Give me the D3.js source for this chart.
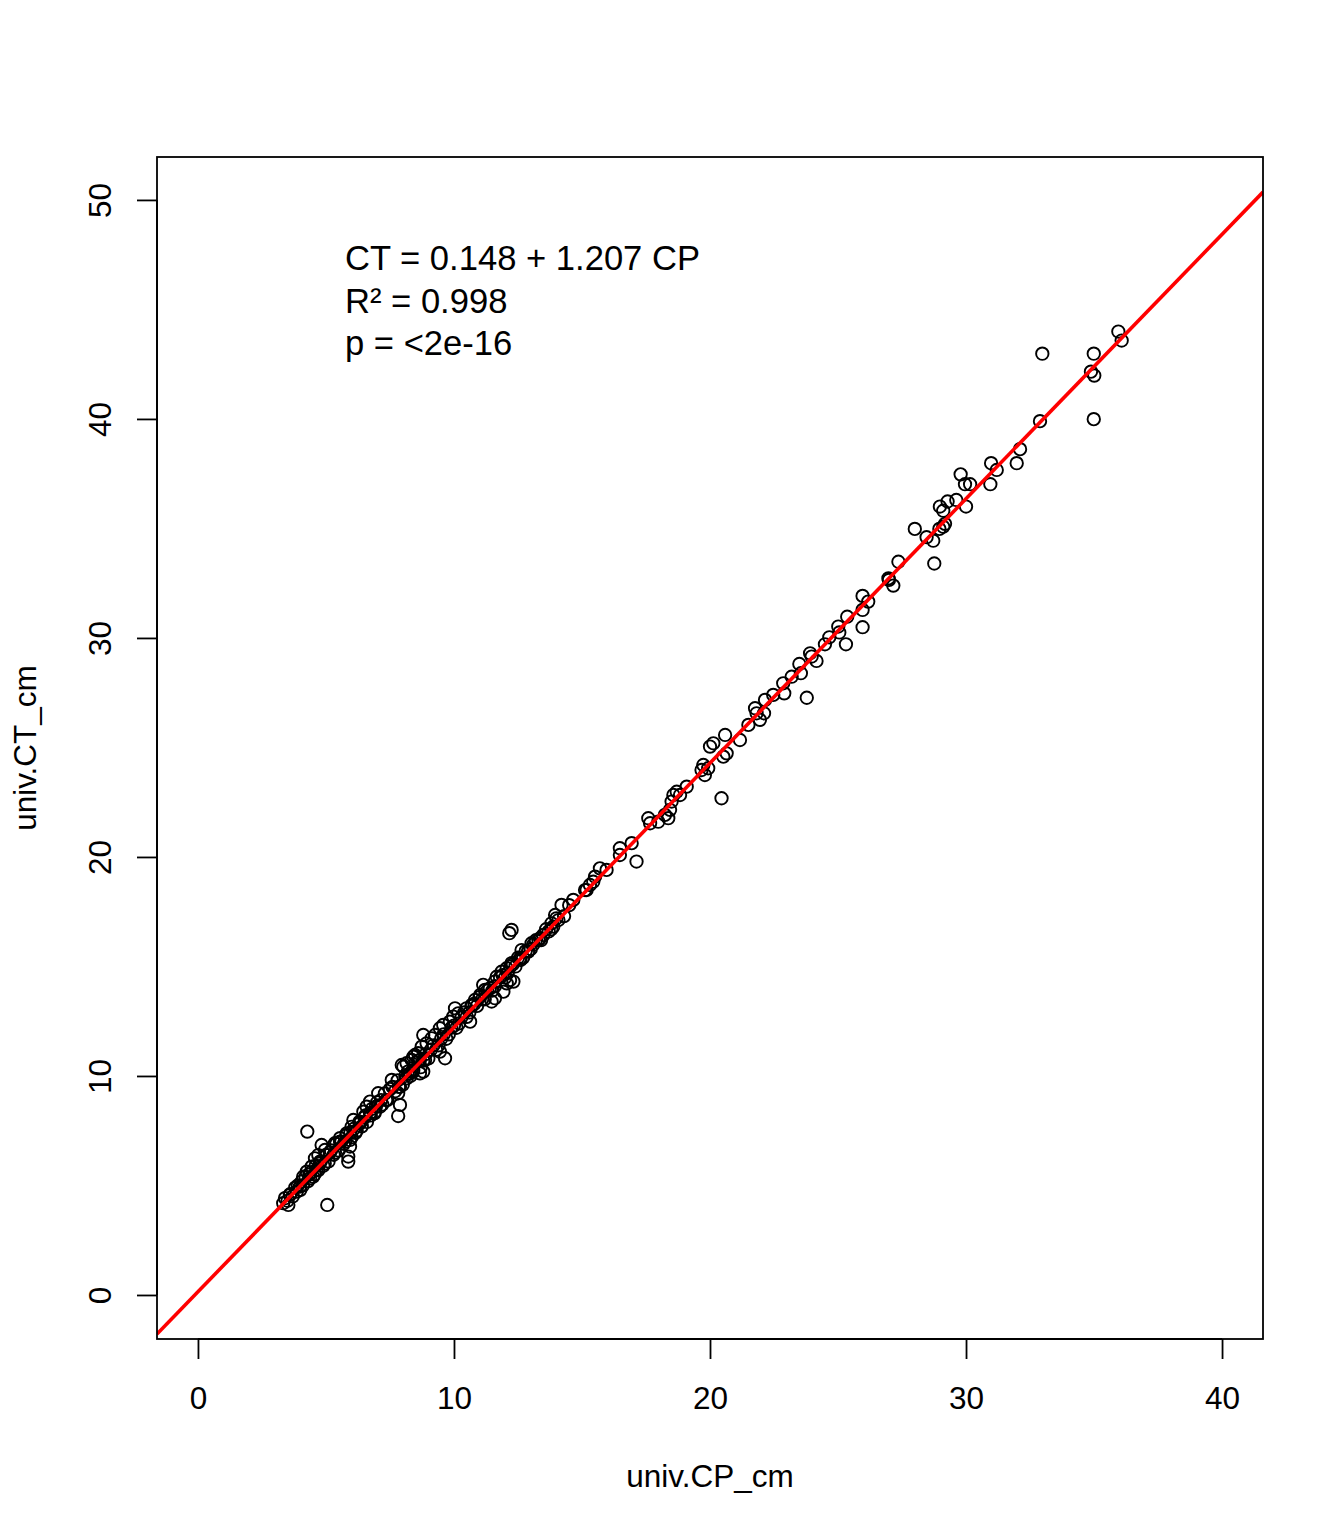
<!DOCTYPE html>
<html>
<head>
<meta charset="utf-8">
<script src="https://cdn.jsdelivr.net/npm/d3@7"></script>
<style>
  body { margin: 0; background: #fff; }
  svg text { font-family: "Liberation Sans", Arial, sans-serif; fill: #000; }
</style>
</head>
<body>
<div id="chart"></div>
<script>
var cp = [35.95, 36.08, 32.98, 34.99, 34.88, 35.01, 34.99, 32.89, 32.11, 31.98,
          30.98, 31.2, 30.95, 29.79, 29.96, 30.16, 29.62, 29.28, 28.98, 29.11,
          30.0, 29.18, 28.96, 28.0, 28.46, 28.72, 27.36, 28.76, 26.97, 29.11,
          26.99, 27.16, 25.96, 26.18, 25.96, 25.96, 25.36, 25.01, 25.05, 25.31,
          24.66, 24.49, 23.91, 23.97, 24.16, 23.49, 23.55, 23.19, 22.86, 22.9,
          23.78, 22.47, 22.15, 21.76, 21.82, 22.11, 21.95, 21.5, 20.59, 20.13,
          20.0, 21.17, 20.65, 20.52, 20.45, 19.74, 19.67, 19.8, 19.93, 19.09,
          18.7, 18.57, 18.83, 18.5, 18.44, 18.24, 18.37, 17.59, 17.66, 17.98,
          17.13, 16.48, 16.48, 16.94, 15.7, 15.96, 15.51, 15.44, 15.12,
          12.25, 12.16, 15.31, 15.18, 14.66, 14.2, 13.95, 14.08, 13.81, 13.88,
          13.49, 13.36, 13.03, 12.9, 12.64, 12.58, 12.25, 12.06, 11.86, 12.19,
          12.06, 12.32, 11.67, 11.6, 11.14, 11.21, 11.93, 11.6, 11.47, 11.02,
          10.82, 10.69, 10.49, 10.04, 10.17, 9.97, 9.84, 10.63, 9.58, 9.45,
          9.26, 9.13, 8.8, 8.93, 8.74, 8.6, 8.41, 8.35, 8.15, 8.02,
          9.65, 9.45, 8.87, 8.67, 8.41, 7.96, 8.48, 8.67, 8.8, 8.28,
          8.15, 7.57, 7.89, 7.82, 7.04, 6.72, 6.59, 7.89, 7.82, 7.11,
          6.91, 6.72, 6.46, 6.07, 6.0, 6.33, 5.81, 5.94, 5.55, 5.35,
          5.94, 5.87, 5.87, 4.27, 4.83, 4.96, 4.7, 4.57, 4.77, 5.03,
          4.44, 4.25, 4.11, 4.05, 3.98, 3.86, 3.59, 3.4, 3.33, 3.53,
          4.63, 4.38, 5.05,
          3.6, 3.7, 3.9, 4.0, 4.2, 4.3, 4.4, 4.5, 4.6, 4.7,
          4.8, 4.9, 5.0, 5.1, 5.2, 5.3, 5.4, 5.5, 5.6, 5.7,
          5.8, 6.0, 6.1, 6.2, 6.3, 6.4, 6.5, 6.6, 6.8, 6.9,
          7.0, 7.2, 7.3, 7.4, 7.5, 7.7, 7.8, 8.0, 8.2, 8.3,
          8.5, 8.7, 8.9, 9.0, 9.2, 9.3, 9.5, 9.7, 9.9, 10.1,
          10.3, 10.5, 10.7, 10.9, 11.0, 11.2, 11.4, 11.5, 11.8, 12.0,
          12.2, 12.4, 12.5, 12.7, 12.8, 13.0, 13.2, 13.4, 13.6, 13.8,
          14.0, 14.3, 14.5,
          3.5, 3.8, 4.1, 4.35, 4.55, 4.75, 4.95, 5.15, 5.35, 5.55,
          5.75, 5.95, 6.15, 6.35, 6.55, 6.75, 6.95, 7.15, 7.35, 7.6,
          7.85, 8.1, 8.4, 8.6, 8.8, 9.1, 9.4, 9.6, 9.8, 10.0,
          10.2, 10.4, 10.6, 10.8, 11.1, 11.3, 11.6, 11.9, 12.1, 12.3,
          12.6, 12.9, 13.1, 13.3, 13.7];
var ct = [43.99, 43.58, 42.98, 42.98, 42.16, 41.98, 39.99, 39.9, 38.62, 37.98,
          37.98, 37.67, 37.02, 37.47, 37.02, 37.02, 36.3, 36.23, 36.0, 35.81,
          36.0, 35.21, 34.98, 34.98, 34.6, 34.44, 33.48, 33.4, 32.72, 35.08,
          32.65, 32.39, 31.92, 31.66, 31.28, 30.49, 30.97, 30.52, 30.25, 29.71,
          30.03, 29.71, 29.3, 29.15, 28.95, 28.81, 28.39, 28.23, 27.93, 27.47,
          27.27, 27.4, 27.17, 26.79, 26.56, 26.56, 26.26, 26.03, 25.57, 25.19,
          25.04, 25.34, 24.73, 24.58, 22.68, 24.2, 23.97, 23.74, 24.05, 23.21,
          22.98, 22.83, 22.83, 22.53, 22.15, 21.92, 21.77, 21.77, 21.54, 21.61,
          19.79, 20.4, 20.09, 20.63, 19.48, 19.41, 19.1, 18.87, 18.49,
          16.67, 16.52, 18.72, 18.49, 18.04, 17.81, 17.35, 17.12, 16.97, 16.82,
          16.44, 16.29, 16.06, 15.68, 15.75, 15.37, 15.15, 14.92, 14.76, 14.38,
          14.23, 14.31, 14.53, 14.31, 14.16, 13.93, 13.85, 13.55, 13.4, 13.7,
          13.47, 13.24, 13.09, 13.09, 12.86, 12.71, 12.48, 12.48, 12.33, 12.18,
          11.87, 11.72, 11.87, 11.49, 11.34, 11.04, 10.88, 10.73, 10.58, 10.42,
          10.81, 11.11, 10.73, 10.12, 10.27, 10.5, 10.96, 10.73, 10.2, 10.12,
          9.89, 9.82, 9.51, 9.21, 9.21, 8.83, 8.6, 8.68, 8.17, 8.6,
          8.37, 8.3, 8.37, 7.99, 7.68, 7.84, 7.38, 7.08, 7.16, 6.93,
          6.78, 6.32, 6.09, 7.46, 6.85, 6.62, 6.39, 6.24, 6.09, 6.39,
          5.86, 5.63, 5.4, 5.18, 4.95, 4.72, 4.57, 4.42, 4.19, 4.11,
          5.71, 5.33, 4.11,
          4.6, 4.5, 5.0, 4.8, 5.4, 5.2, 5.6, 5.4, 5.9, 5.7,
          6.1, 5.9, 6.4, 6.1, 6.6, 6.4, 6.9, 6.6, 7.0, 6.9,
          7.3, 7.2, 7.6, 7.5, 7.9, 7.7, 8.1, 7.9, 8.5, 8.3,
          8.8, 8.7, 9.2, 8.9, 9.4, 9.3, 9.8, 9.6, 10.2, 10.0,
          10.6, 10.4, 11.0, 10.8, 11.4, 11.2, 11.7, 11.7, 12.2, 12.2,
          12.7, 12.7, 13.2, 13.2, 13.6, 13.5, 14.0, 13.9, 14.5, 14.5,
          15.0, 15.0, 15.4, 15.4, 15.7, 15.8, 16.2, 16.2, 16.7, 16.7,
          17.2, 17.3, 17.8,
          4.3, 4.9, 5.0, 5.5, 5.5, 6.0, 6.0, 6.5, 6.5, 7.0,
          7.0, 7.4, 7.4, 7.9, 8.2, 8.2, 8.6, 8.9, 8.9, 9.5,
          9.5, 10.0, 10.2, 10.7, 10.7, 11.2, 11.4, 11.9, 11.9, 12.3,
          12.4, 12.9, 12.9, 13.3, 13.5, 13.9, 14.1, 14.6, 14.7, 15.1,
          15.3, 15.7, 16.0, 16.2, 16.6];

var xTicks = [0, 10, 20, 30, 40];
var yTicks = [0, 10, 20, 30, 40, 50];
var fit = {intercept: 0.148, slope: 1.207};
var labels = ["CT = 0.148 + 1.207 CP", "R\u00b2 = 0.998", "p = <2e-16"];

(function() {
  var W = 1344, H = 1536;
  var pL = 157, pR = 1263, pT = 157, pB = 1339;
  var font = "Liberation Sans, Arial, sans-serif";

  var svg = d3.select("#chart").append("svg").attr("width", W).attr("height", H);

  var x = d3.scaleLinear().domain([-1.6, 41.6]).range([pL, pR]);
  var y = d3.scaleLinear().domain([-2.01, 51.96]).range([pB, pT]);

  // clip for the fitted line
  svg.append("clipPath").attr("id", "plotclip")
     .append("rect").attr("x", pL).attr("y", pT)
     .attr("width", pR - pL).attr("height", pB - pT);

  // points
  var pts = cp.map(function(d, i) { return [d, ct[i]]; });
  svg.append("g").selectAll("circle").data(pts).enter().append("circle")
     .attr("cx", function(d) { return x(d[0]); })
     .attr("cy", function(d) { return y(d[1]); })
     .attr("r", 6.2)
     .attr("fill", "none").attr("stroke", "#000").attr("stroke-width", 1.9);

  // regression line across the whole plot region
  var xd = x.domain();
  svg.append("line").attr("clip-path", "url(#plotclip)")
     .attr("x1", x(xd[0])).attr("y1", y(fit.intercept + fit.slope * xd[0]))
     .attr("x2", x(xd[1])).attr("y2", y(fit.intercept + fit.slope * xd[1]))
     .attr("stroke", "#ff0000").attr("stroke-width", 3.6);

  // box
  svg.append("rect").attr("x", pL).attr("y", pT)
     .attr("width", pR - pL).attr("height", pB - pT)
     .attr("fill", "none").attr("stroke", "#000").attr("stroke-width", 1.8);

  // x axis
  var xAxis = d3.axisBottom(x).tickValues(xTicks).tickSize(20).tickPadding(28);
  var gx = svg.append("g").attr("transform", "translate(0," + pB + ")").call(xAxis);
  gx.select(".domain").attr("d", "M" + x(0) + ",0H" + x(40)).attr("stroke-width", 1.8);
  gx.selectAll(".tick line").attr("stroke-width", 1.8);
  gx.selectAll("text").attr("font-size", 31.5).attr("font-family", font);

  // y axis
  var yAxis = d3.axisLeft(y).tickValues(yTicks).tickSize(20).tickPadding(0);
  var gy = svg.append("g").attr("transform", "translate(" + pL + ",0)").call(yAxis);
  gy.select(".domain").attr("d", "M0," + y(0) + "V" + y(50)).attr("stroke-width", 1.8);
  gy.selectAll(".tick line").attr("stroke-width", 1.8);
  gy.selectAll("text")
     .attr("font-size", 31.5).attr("font-family", font)
     .attr("x", null)
     .attr("text-anchor", "middle")
     .attr("transform", "translate(-57,0) rotate(-90)")
     .attr("dy", "0.35em");

  // axis titles
  svg.append("text").attr("x", (pL + pR) / 2).attr("y", 1487)
     .attr("text-anchor", "middle").attr("font-size", 31.5).text("univ.CP_cm");
  svg.append("text").attr("transform", "translate(36," + ((pT + pB) / 2) + ") rotate(-90)")
     .attr("text-anchor", "middle").attr("font-size", 31.5).text("univ.CT_cm");

  // fit annotation
  svg.append("g").selectAll("text").data(labels).enter().append("text")
     .attr("x", 345).attr("y", function(d, i) { return 270 + i * 42.5; })
     .attr("font-size", 34.6).text(function(d) { return d; });
})();
</script>
</body>
</html>
